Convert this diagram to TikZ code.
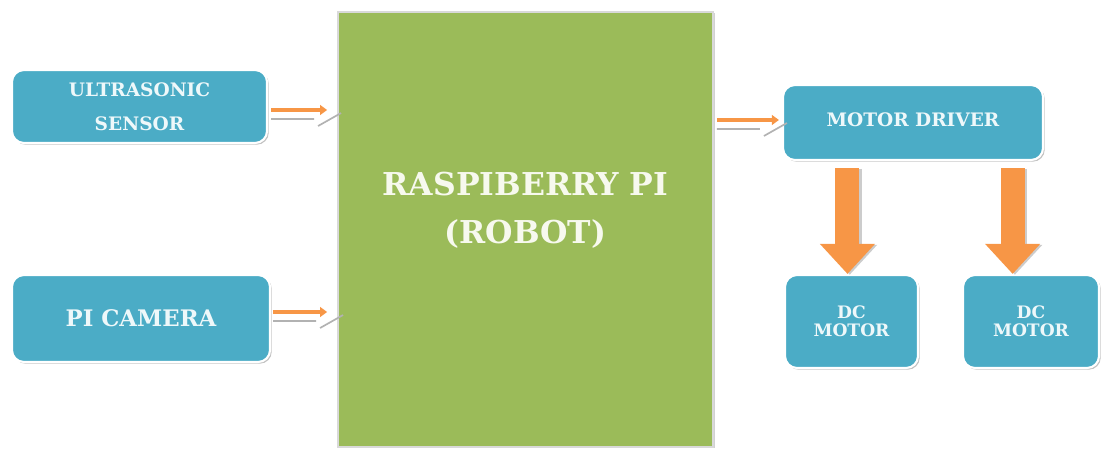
\documentclass[tikz,border=0pt]{standalone}
\usepackage{fontspec}
\setmainfont{DejaVu Serif}
\usetikzlibrary{arrows.meta,shadows,calc}

\definecolor{boxblue}{HTML}{4BACC6}
\definecolor{pigreen}{HTML}{9BBB59}
\definecolor{sigorange}{HTML}{F79646}
\definecolor{txtblue}{HTML}{EEF8FA}
\definecolor{txtgreen}{HTML}{F7F9EE}

\tikzset{
  blockbox/.style={draw=white, line width=1.5pt, fill=boxblue, rounded corners=0.3cm,
    text=txtblue, align=center, font=\bfseries\fontsize{13.2}{15}\selectfont,
    drop shadow={shadow xshift=1.2pt, shadow yshift=-1.2pt, fill=black!40, opacity=0.6}},
  pibox/.style={draw=black!15, line width=1.2pt, fill=pigreen,
    drop shadow={shadow xshift=1.2pt, shadow yshift=-1pt, fill=black!30, opacity=0.6}},
  pilabel/.style={text=txtgreen, align=center, font=\bfseries\fontsize{22.4}{26}\selectfont},
  sigline/.style={draw=sigorange, line width=2.2pt, -{Triangle[length=5pt,width=7pt]}},
  sigshade/.style={draw=black!30, line width=1.2pt},
  fatarrow/.style={draw=sigorange, line width=0.6cm, -{Triangle[length=0.75cm,width=1.33cm]}},
  fatshade/.style={fatarrow, draw=black!20, transform canvas={xshift=1.6pt, yshift=-0.6pt}}
}

\begin{document}
\begin{tikzpicture}[x=0.025cm, y=-0.025cm]
\useasboundingbox (0,0) rectangle (1105,452);

% blocks
\node[pibox, minimum width=9.375cm, minimum height=10.875cm] (rpi) at (525.5,229.5) {};
\node[pilabel] (rpi-lbl) at ([shift={(0,-19)}]rpi.center) {RASPIBERRY PI\\[8pt](ROBOT)};

\node[blockbox, minimum width=6.375cm, minimum height=1.825cm] (us) at (139.5,106.5) {ULTRASONIC\\[9pt]SENSOR};
\node[blockbox, minimum width=6.45cm, minimum height=2.175cm, font=\bfseries\fontsize{16.2}{19}\selectfont] (cam) at (141,318.5) {PI CAMERA};
\node[blockbox, minimum width=6.5cm, minimum height=1.875cm] (mdrv) at (913,122.5) {\raisebox{4pt}{MOTOR DRIVER}};
\node[blockbox, minimum width=3.325cm, minimum height=2.325cm, font=\bfseries\fontsize{12.2}{13}\selectfont] (dc1) at (851.5,321.5) {DC\\MOTOR};
\node[blockbox, minimum width=3.4cm, minimum height=2.325cm, font=\bfseries\fontsize{12.2}{13}\selectfont] (dc2) at (1031,321.5) {DC\\MOTOR};

% small arrows into and out of the pi
\path (us.east) ++(3,3.5) coordinate (us-out);
\path (cam.east) ++(2,-6.5) coordinate (cam-out);
\path (rpi.east |- mdrv.west) ++(3,-2.5) coordinate (rpi-out);

\draw[sigshade] ([shift={(0,9)}]us-out) -- +(43,0) ([shift={(47,16)}]us-out) -- +(23,-13);
\draw[sigline, shorten >=0.25cm] (us-out) -- (us-out -| rpi.west);
\draw[sigshade] ([shift={(0,9)}]cam-out) -- +(43,0) ([shift={(47,16)}]cam-out) -- +(23,-13);
\draw[sigline, shorten >=0.25cm] (cam-out) -- (cam-out -| rpi.west);
\draw[sigshade] ([shift={(0,9)}]rpi-out) -- +(43,0) ([shift={(47,16)}]rpi-out) -- +(23,-13);
\draw[sigline, shorten >=0.075cm] (rpi-out) -- (rpi-out -| mdrv.west);

% driver to motors
\coordinate (fa1) at ($(mdrv.south west)!0.25!(mdrv.south east)+(0,7)$);
\coordinate (fa2) at ($(mdrv.south west)!0.88!(mdrv.south east)+(0,7)$);
\draw[fatshade] (fa1) -- (fa1 |- dc1.north);
\draw[fatarrow] (fa1) -- (fa1 |- dc1.north);
\draw[fatshade] (fa2) -- (fa2 |- dc2.north);
\draw[fatarrow] (fa2) -- (fa2 |- dc2.north);
\end{tikzpicture}
\end{document}
